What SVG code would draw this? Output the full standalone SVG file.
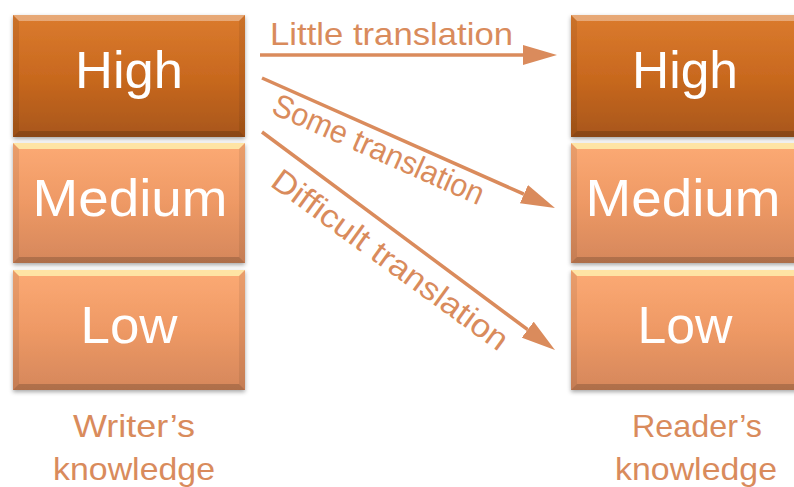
<svg xmlns="http://www.w3.org/2000/svg" width="794" height="487" viewBox="0 0 794 487">
<defs>
<style>
.lbl{font-family:"Liberation Sans",Arial,sans-serif;fill:#ffffff;font-size:52px;text-anchor:middle}
.cap{font-family:"Liberation Sans",Arial,sans-serif;fill:#D98B5C;font-size:32px;text-anchor:middle}
.clbl{font-family:"Liberation Sans",Arial,sans-serif;fill:#D98B5C;font-size:32px}
.conn{stroke:#DA8B5C;stroke-width:3.5;fill:none;marker-end:url(#ah)}
.hi{fill:url(#gHigh)}
.lo{fill:url(#gLow)}
.bt{fill:#ffffff;opacity:0.35}
.btl{fill:#FFF2B0;opacity:0.8}
.bb{fill:#000000;opacity:0.18}
.bs{fill:#000000;opacity:0.07}
</style>
<linearGradient id="gHigh" x1="0" y1="0" x2="0" y2="1">
<stop offset="0" stop-color="#DB7B2E"/>
<stop offset="0.5" stop-color="#C9691F"/>
<stop offset="1" stop-color="#A8561A"/>
</linearGradient>
<linearGradient id="gLow" x1="0" y1="0" x2="0" y2="1">
<stop offset="0" stop-color="#FCAA74"/>
<stop offset="0.5" stop-color="#EE9965"/>
<stop offset="1" stop-color="#D5875B"/>
</linearGradient>
<filter id="sh" x="-5%" y="-5%" width="110%" height="120%">
<feDropShadow dx="0" dy="2" stdDeviation="2" flood-color="#000" flood-opacity="0.35"/>
</filter>
<marker id="ah" markerUnits="userSpaceOnUse" markerWidth="34" markerHeight="20" refX="0" refY="10" orient="auto" viewBox="0 0 34 20">
<path d="M0,0 L34,10 L0,20 Z" fill="#DA8B5C"/>
</marker>
</defs>

<g id="writer-high" filter="url(#sh)">
<rect x="13" y="15" width="232" height="122" class="hi"/>
<path class="bt" d="M13,15 H245 L239,21 H19 Z"/>
<path class="bb" d="M13,137 H245 L239,131 H19 Z"/>
<path class="bs" d="M13,15 L19,21 V131 L13,137 Z"/>
<path class="bs" d="M245,15 L239,21 V131 L245,137 Z"/>
<text class="lbl" x="129" y="88" textLength="108" lengthAdjust="spacingAndGlyphs">High</text>
</g>
<g id="writer-medium" filter="url(#sh)">
<rect x="13" y="143" width="232" height="120" class="lo"/>
<path class="btl" d="M13,143 H245 L239,149 H19 Z"/>
<path class="bb" d="M13,263 H245 L239,257 H19 Z"/>
<path class="bs" d="M13,143 L19,149 V257 L13,263 Z"/>
<path class="bs" d="M245,143 L239,149 V257 L245,263 Z"/>
<text class="lbl" x="130" y="216" textLength="195" lengthAdjust="spacingAndGlyphs">Medium</text>
</g>
<g id="writer-low" filter="url(#sh)">
<rect x="13" y="270" width="232" height="120" class="lo"/>
<path class="btl" d="M13,270 H245 L239,276 H19 Z"/>
<path class="bb" d="M13,390 H245 L239,384 H19 Z"/>
<path class="bs" d="M13,270 L19,276 V384 L13,390 Z"/>
<path class="bs" d="M245,270 L239,276 V384 L245,390 Z"/>
<text class="lbl" x="129" y="343" textLength="97" lengthAdjust="spacingAndGlyphs">Low</text>
</g>

<g id="reader-high" filter="url(#sh)">
<rect x="571" y="15" width="232" height="122" class="hi"/>
<path class="bt" d="M571,15 H803 L797,21 H577 Z"/>
<path class="bb" d="M571,137 H803 L797,131 H577 Z"/>
<path class="bs" d="M571,15 L577,21 V131 L571,137 Z"/>
<text class="lbl" x="685" y="88" textLength="106" lengthAdjust="spacingAndGlyphs">High</text>
</g>
<g id="reader-medium" filter="url(#sh)">
<rect x="571" y="143" width="232" height="120" class="lo"/>
<path class="btl" d="M571,143 H803 L797,149 H577 Z"/>
<path class="bb" d="M571,263 H803 L797,257 H577 Z"/>
<path class="bs" d="M571,143 L577,149 V257 L571,263 Z"/>
<text class="lbl" x="683" y="216" textLength="195" lengthAdjust="spacingAndGlyphs">Medium</text>
</g>
<g id="reader-low" filter="url(#sh)">
<rect x="571" y="270" width="232" height="120" class="lo"/>
<path class="btl" d="M571,270 H803 L797,276 H577 Z"/>
<path class="bb" d="M571,390 H803 L797,384 H577 Z"/>
<path class="bs" d="M571,270 L577,276 V384 L571,390 Z"/>
<text class="lbl" x="685" y="343" textLength="95" lengthAdjust="spacingAndGlyphs">Low</text>
</g>

<g id="captions">
<text class="cap" x="134" y="437" textLength="122" lengthAdjust="spacingAndGlyphs">Writer’s</text>
<text class="cap" x="134" y="480" textLength="162" lengthAdjust="spacingAndGlyphs">knowledge</text>
<text class="cap" x="697" y="437" textLength="130" lengthAdjust="spacingAndGlyphs">Reader’s</text>
<text class="cap" x="696" y="480" textLength="162" lengthAdjust="spacingAndGlyphs">knowledge</text>
</g>

<g id="connectors">
<line class="conn" x1="260" y1="55" x2="523" y2="55"/>
<line class="conn" x1="262" y1="78" x2="523.9" y2="194.2"/>
<line class="conn" x1="262" y1="132" x2="527.7" y2="329.7"/>
<text class="clbl" x="270" y="45" textLength="243" lengthAdjust="spacingAndGlyphs">Little translation</text>
<text class="clbl" transform="translate(270,113) rotate(23.9)" x="0" y="0" textLength="228" lengthAdjust="spacingAndGlyphs">Some translation</text>
<text class="clbl" transform="translate(269,185) rotate(36)" x="0" y="0" textLength="284" lengthAdjust="spacingAndGlyphs">Difficult translation</text>
</g>
</svg>
